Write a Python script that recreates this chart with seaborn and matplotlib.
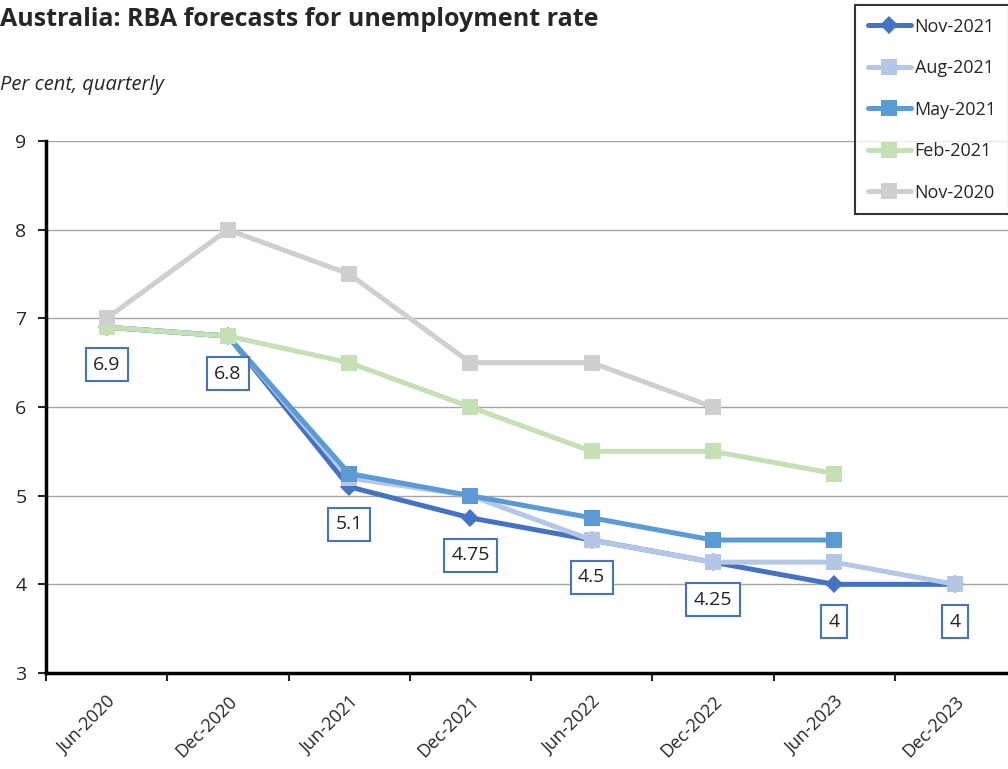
import numpy as np
import pandas as pd
import seaborn as sns
import matplotlib.pyplot as plt

# .:: Data ::.
quarters = ["Jun-2020", "Dec-2020", "Jun-2021", "Dec-2021",
            "Jun-2022", "Dec-2022", "Jun-2023", "Dec-2023"]
nov_2021 = [6.9, 6.8, 5.1, 4.75, 4.5, 4.25, 4.0, 4.0]
aug_2021 = [6.9, 6.8, 5.2, 5.0, 4.5, 4.25, 4.25, 4.0]
may_2021 = [6.9, 6.8, 5.25, 5.0, 4.75, 4.5, 4.5, np.nan]
feb_2021 = [6.9, 6.8, 6.5, 6.0, 5.5, 5.5, 5.25, np.nan]
nov_2020 = [7.0, 8.0, 7.5, 6.5, 6.5, 6.0, np.nan, np.nan]
labels = ["6.9", "6.8", "5.1", "4.75", "4.5", "4.25", "4", "4"]

series = [
    ("Nov-2021", nov_2021, "#4472C4", "D", 9),
    ("Aug-2021", aug_2021, "#B4C7E7", "s", 11),
    ("May-2021", may_2021, "#5B9BD5", "s", 11),
    ("Feb-2021", feb_2021, "#C5E0B4", "s", 11),
    ("Nov-2020", nov_2020, "#D0CECE", "s", 11),
]

sns.set_style("white")
plt.rcParams["font.family"] = ["Open Sans", "DejaVu Sans"]

fig = plt.figure(figsize=(10.08, 7.69), dpi=100)
ax = fig.add_axes([46 / 1008, 96 / 769, 970 / 1008, 532 / 769])

x = np.arange(len(quarters))
for name, vals, color, mk, ms in series:
    df = pd.DataFrame({"x": x, "y": vals}).dropna()
    sns.lineplot(data=df, x="x", y="y", ax=ax, color=color, linewidth=3.6,
                 marker=mk, markersize=ms, markeredgewidth=0,
                 label=name, zorder=3)

# .:: Data labels for latest forecast ::.
for i, (v, t) in enumerate(zip(nov_2021, labels)):
    ax.annotate(t, (i, v), xytext=(0, -27), textcoords="offset points",
                ha="center", va="center", fontsize=14, color="#222222",
                bbox=dict(boxstyle="square,pad=0.38", fc="white",
                          ec="#4472C4", lw=1.5), zorder=5)

# .:: Axes ::.
ax.set_xlim(-0.5, 7.5)
ax.set_ylim(3, 9)
ax.set_yticks(range(3, 10))
ax.set_xticks(x)
ax.set_xticklabels(quarters, rotation=45, ha="right", rotation_mode="anchor",
                   fontsize=13)
ax.set_xticks(np.arange(-0.5, 8.0, 1.0), minor=True)
ax.tick_params(axis="x", which="major", length=0, pad=14)
ax.tick_params(axis="x", which="minor", length=6, width=1.5, direction="out",
               bottom=True)
ax.tick_params(axis="y", length=6, width=1.5, direction="out", left=True,
               labelsize=14, pad=8)
ax.yaxis.grid(True, color="#A6A6A6", linewidth=1)
ax.xaxis.grid(False)
ax.set_xlabel("")
ax.set_ylabel("")
for s in ["top", "right"]:
    ax.spines[s].set_visible(False)
for s in ["left", "bottom"]:
    ax.spines[s].set_color("black")
    ax.spines[s].set_linewidth(2.5)
    ax.spines[s].set_zorder(6)

leg = ax.legend(loc="upper left", bbox_to_anchor=(855 / 1008, 1 - 5 / 769),
                bbox_transform=fig.transFigure, frameon=True, fancybox=False,
                edgecolor="black", fontsize=13, handlelength=2.4,
                handletextpad=0.2, labelspacing=1.3, borderpad=0.7,
                borderaxespad=0)
leg.get_frame().set_linewidth(1.5)

fig.text(0.0, 0.975, "Australia: RBA forecasts for unemployment rate",
         fontsize=18, fontweight="bold", ha="left", va="center")
fig.text(0.0, 0.89, "Per cent, quarterly", fontsize=14.5, style="italic",
         ha="left", va="center")

fig.savefig("out.png", dpi=100)
